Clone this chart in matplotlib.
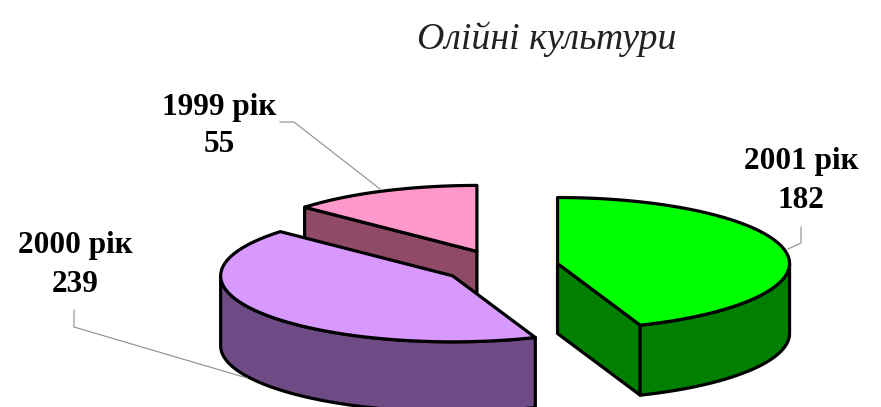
import numpy as np
import matplotlib
matplotlib.use('Agg')
import matplotlib.pyplot as plt

title = 'Олійні культури'
years = ['2001 рік', '2000 рік', '1999 рік']
values = [182, 239, 55]
top_colors = ['#00FF00', '#D899FF', '#FF99CC']
side_colors = ['#007F00', '#6E4B84', '#8F4A66']

# Pie geometry in image pixels.
cx, cy = 500.5, 266.5
rx, ry = 232, 66
depth = 70
explode = 0.25
warp_a, warp_b = np.radians(20.8), np.radians(-7.5)

label_pos = [(801, 161, 200), (75, 245, 283), (219, 107, 144)]
leaders = [[(801, 227), (801, 243), (788, 249)],
           [(74, 310), (74, 327), (247, 378)],
           [(280, 122), (294, 122), (380, 189)]]


def warp(theta):
    # View distortion of the 3D pie, angle from 12 o'clock clockwise.
    return theta + warp_a * np.sin(theta) + warp_b * np.sin(2 * theta)


def arc(x0, y0, a, b):
    t = np.linspace(a, b, 120)
    return x0 + rx * np.sin(t), y0 - ry * np.cos(t)


fig = plt.figure(figsize=(8.81, 4.07), dpi=100)
ax = fig.add_axes([0, 0, 1, 1])
ax.set_xlim(0, 881)
ax.set_ylim(407, 0)
ax.axis('off')

edges = np.cumsum([0] + values) / sum(values) * 2 * np.pi
edges = warp(edges)
line = dict(edgecolor='black', linewidth=2.3, joinstyle='round')

for i in reversed(range(len(values))):
    a, b = edges[i], edges[i + 1]
    mid = (a + b) / 2
    x0 = cx + explode * rx * np.sin(mid)
    y0 = cy - explode * ry * np.cos(mid)

    # radial walls that face the viewer
    for ang, visible in [(b, 0 < b < np.pi), (a, np.pi < a < 2 * np.pi)]:
        if visible:
            xe = x0 + rx * np.sin(ang)
            ye = y0 - ry * np.cos(ang)
            ax.fill([x0, xe, xe, x0], [y0, ye, ye + depth, y0 + depth],
                    facecolor=side_colors[i], **line)

    # outer wall, front half only
    lo, hi = max(a, np.pi / 2), min(b, 3 * np.pi / 2)
    if lo < hi:
        xs, ys = arc(x0, y0, lo, hi)
        ax.fill(np.r_[xs, xs[::-1]], np.r_[ys, ys[::-1] + depth],
                facecolor=side_colors[i], **line)

    xs, ys = arc(x0, y0, a, b)
    ax.fill(np.r_[x0, xs], np.r_[y0, ys], facecolor=top_colors[i], **line)

for pts in leaders:
    pts = np.array(pts)
    ax.plot(pts[:, 0], pts[:, 1], color='#8c8c8c', linewidth=0.8)

serif = 'Liberation Serif'
for year, val, (x, y1, y2) in zip(years, values, label_pos):
    ax.text(x, y1 + 1, year, ha='center', va='center', family=serif,
            weight='bold', fontsize=22.5)
    ax.text(x, y2 + 1, str(val), ha='center', va='center', family=serif,
            weight='bold', fontsize=22.5)

ax.text(547, 39, title, ha='center', va='center', family=serif,
        style='italic', fontsize=27.3, color='#222222')

fig.savefig('out.png', dpi=100)
